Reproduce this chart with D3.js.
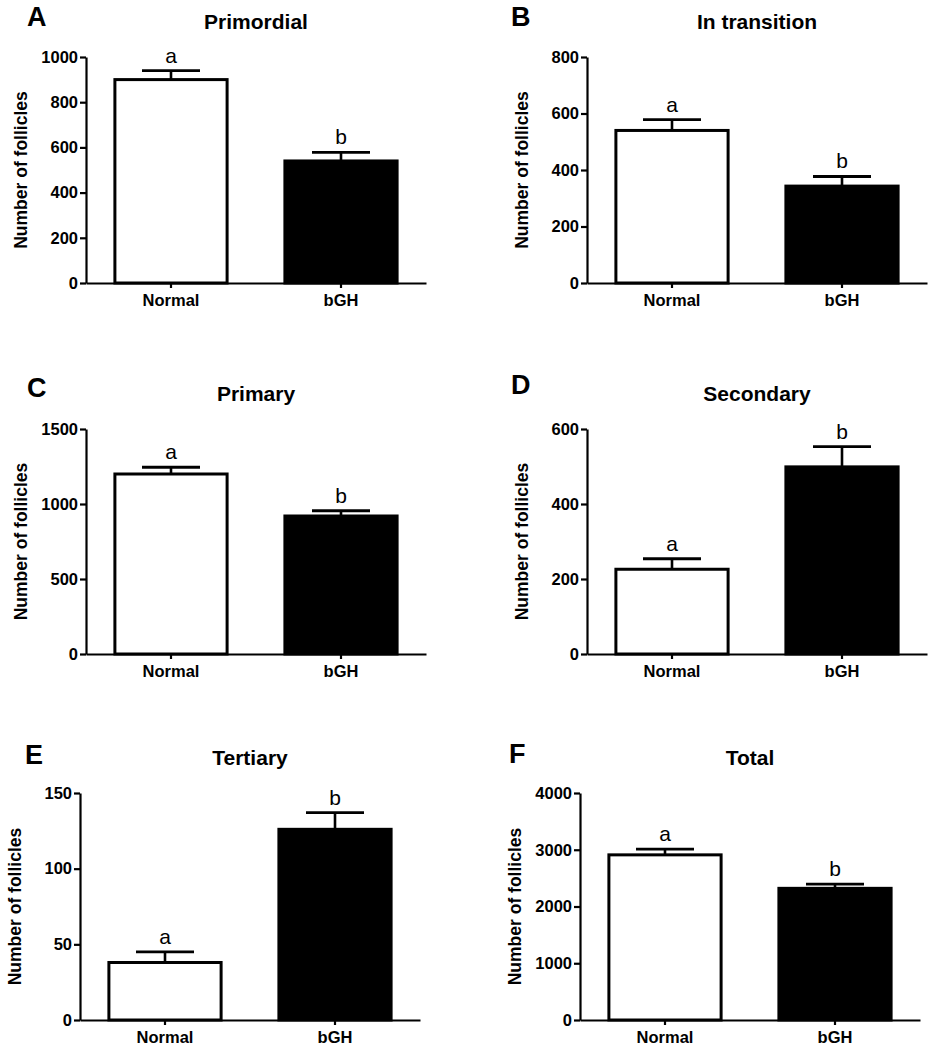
<!DOCTYPE html>
<html>
<head>
<meta charset="utf-8">
<script src="https://cdn.jsdelivr.net/npm/d3@7"></script>
<style>
  html, body { margin: 0; padding: 0; background: #fff; }
  svg { display: block; }
  text { font-family: "Liberation Sans", Arial, Helvetica, sans-serif; fill: #000; }
</style>
</head>
<body>
<svg id="chart" width="931" height="1050"></svg>
<script>
// ---- data ----
const panelLetters = ["A", "B", "C", "D", "E", "F"];
const titles = ["Primordial", "In transition", "Primary", "Secondary", "Tertiary", "Total"];
const categories = ["Normal", "bGH"];
const normalMeans = [900, 540, 1200, 226, 38, 2910];
const normalSEM   = [40, 38, 45, 28, 7, 100];
const bghMeans    = [540, 343, 920, 499, 126, 2320];
const bghSEM      = [38, 34, 35, 54, 11, 75];
const yMax  = [1000, 800, 1500, 600, 150, 4000];
const yStep = [200, 200, 500, 200, 50, 1000];
const sigNormal = ["a", "a", "a", "a", "a", "a"];
const sigBGH    = ["b", "b", "b", "b", "b", "b"];
const yLabel = "Number of follicles";

// ---- layout ----
const axisX   = [86, 587, 86, 587, 80, 580];
const plotTop = [57, 57, 429, 429, 793, 793];
const plotH   = [226, 226, 225, 225, 227, 227];
const plotW = 340;
const letterX = [27, 511, 27, 511, 25, 509];
const letterY = [26, 26, 397, 394, 764, 763];

const svg = d3.select("#chart");
const fills = ["#ffffff", "#000000"];

panelLetters.forEach((L, i) => {
  const g = svg.append("g").attr("transform", `translate(${axisX[i]},${plotTop[i]})`);
  const H = plotH[i];
  const y = d3.scaleLinear().domain([0, yMax[i]]).range([H, 0]);
  const x = d3.scaleBand().domain(categories).range([0, plotW]).paddingInner(0.34).paddingOuter(0.17);

  const rows = categories.map((c, k) => ({
    cat: c,
    mean: k === 0 ? normalMeans[i] : bghMeans[i],
    sem: k === 0 ? normalSEM[i] : bghSEM[i],
    sig: k === 0 ? sigNormal[i] : sigBGH[i],
    fill: fills[k]
  }));

  // error bars (upper only)
  const capW = 58;
  rows.forEach(d => {
    const cx = x(d.cat) + x.bandwidth() / 2;
    g.append("line")
      .attr("x1", cx).attr("x2", cx)
      .attr("y1", y(d.mean)).attr("y2", y(d.mean + d.sem))
      .attr("stroke", "#000").attr("stroke-width", 2.6);
    g.append("line")
      .attr("x1", cx - capW / 2).attr("x2", cx + capW / 2)
      .attr("y1", y(d.mean + d.sem)).attr("y2", y(d.mean + d.sem))
      .attr("stroke", "#000").attr("stroke-width", 2.8);
    g.append("text")
      .attr("x", cx).attr("y", y(d.mean + d.sem) - 8)
      .attr("text-anchor", "middle")
      .style("font-size", "21px")
      .text(d.sig);
  });

  // bars
  g.selectAll("rect.bar").data(rows).enter().append("rect")
    .attr("class", "bar")
    .attr("x", d => x(d.cat))
    .attr("width", x.bandwidth())
    .attr("y", d => y(d.mean))
    .attr("height", d => H - y(d.mean))
    .attr("fill", d => d.fill)
    .attr("stroke", "#000")
    .attr("stroke-width", 3);

  // y axis
  const yAxis = d3.axisLeft(y)
    .tickValues(d3.range(0, yMax[i] + yStep[i] / 2, yStep[i]))
    .tickSize(6).tickSizeOuter(0).tickPadding(2)
    .tickFormat(d3.format("d"));
  const ya = g.append("g").call(yAxis);
  ya.select(".domain").attr("stroke-width", 2.2);
  ya.selectAll(".tick line").attr("stroke-width", 2.2);
  ya.selectAll(".tick text")
    .style("font-size", "16.5px").style("font-weight", "bold")
    .style("font-family", '"Liberation Sans", Arial, sans-serif').attr("fill", "#000");

  // x axis
  const xAxis = d3.axisBottom(x).tickSize(5).tickSizeOuter(0).tickPadding(6);
  const xa = g.append("g").attr("transform", `translate(0,${H})`).call(xAxis);
  xa.select(".domain").attr("stroke-width", 2.2);
  xa.selectAll(".tick line").attr("stroke-width", 2.2);
  xa.selectAll(".tick text")
    .style("font-size", "16.5px").style("font-weight", "bold")
    .style("font-family", '"Liberation Sans", Arial, sans-serif').attr("fill", "#000");
  ya.raise();

  // y label
  g.append("text")
    .attr("transform", `translate(-59,${H / 2}) rotate(-90)`)
    .attr("text-anchor", "middle")
    .style("font-size", "17.5px").style("font-weight", "bold")
    .text(yLabel);

  // title
  g.append("text")
    .attr("x", plotW / 2).attr("y", -28.5)
    .attr("text-anchor", "middle")
    .style("font-size", "21px").style("font-weight", "bold")
    .text(titles[i]);

  // panel letter
  svg.append("text")
    .attr("x", letterX[i]).attr("y", letterY[i])
    .style("font-size", "27px").style("font-weight", "bold")
    .text(L);
});
</script>
</body>
</html>
